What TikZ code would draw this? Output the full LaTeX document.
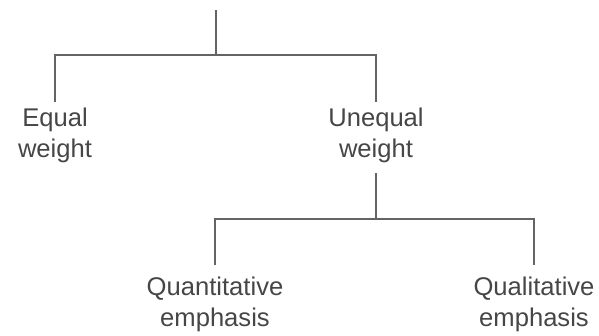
\documentclass[tikz,border=0pt]{standalone}
\usepackage{fontspec}
\setmainfont{Liberation Sans}
\definecolor{txtgray}{RGB}{70,70,70}
\definecolor{linegray}{RGB}{100,100,100}
\begin{document}
\begin{tikzpicture}[x=1pt,y=-1pt,
  label/.style={inner sep=0pt, anchor=north, align=center, text=txtgray,
    font=\fontsize{25.6}{31}\selectfont},
  conn/.style={draw=linegray, line width=2pt, line cap=butt, line join=miter}]
\useasboundingbox (0,0) rectangle (599,335);
\coordinate (root) at (216,10);
\coordinate (j1) at (216,55);
\coordinate (j2) at (376,219);
\node[label] (eq) at (55,108) {Equal\\weight};
\node[label] (uneq) at (376,108) {Unequal\\weight};
\node[label] (quant) at (215,277) {Quantitative\\emphasis};
\node[label] (qual) at (534,277) {Qualitative\\emphasis};
\draw[conn] (root) -- (j1);
\draw[conn] (j1) -| ([yshift=6pt]eq.north);
\draw[conn] (j1) -| ([yshift=6pt]uneq.north);
\draw[conn] ([yshift=-10pt]uneq.south) -- (j2);
\draw[conn] (j2) -| ([yshift=12pt]quant.north);
\draw[conn] (j2) -| ([yshift=12pt]qual.north);
\end{tikzpicture}
\end{document}
